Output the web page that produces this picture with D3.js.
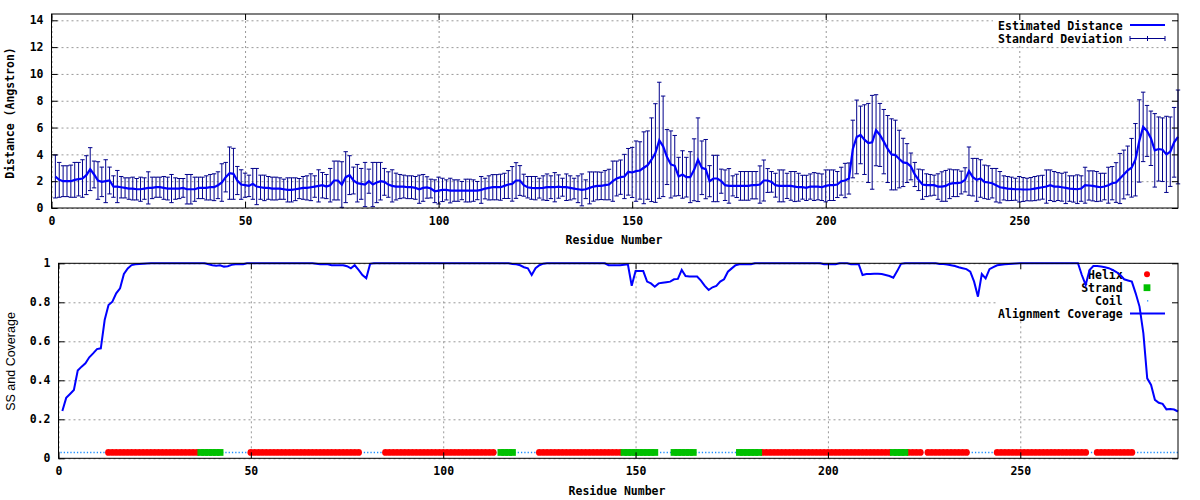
<!DOCTYPE html>
<html><head><meta charset="utf-8">
<script src="https://cdn.jsdelivr.net/npm/d3@7"></script>
<style>
body{margin:0;background:#fff}
svg{display:block}
text{font-family:"DejaVu Sans Mono",monospace;font-weight:bold;font-size:11.5px;fill:#000}
</style>
</head><body>
<svg id="c" width="1200" height="500"></svg>
<script>
// ---------------- data ----------------
const residues = d3.range(1, 292);
const distMean = [
2.35,2.1,2.0,2.0,2.0,2.1,2.15,2.2,2.45,2.9,
2.5,2.05,1.95,2.0,2.05,1.6,1.6,1.55,1.5,1.45,
1.45,1.4,1.4,1.45,1.5,1.5,1.55,1.55,1.5,1.45,
1.45,1.45,1.45,1.5,1.4,1.4,1.4,1.5,1.5,1.5,
1.55,1.55,1.7,1.9,2.3,2.6,2.55,2.05,1.75,1.7,
1.65,1.8,1.6,1.55,1.5,1.5,1.45,1.45,1.45,1.4,
1.35,1.35,1.4,1.45,1.5,1.5,1.55,1.6,1.65,1.7,
1.6,1.7,2.05,2.05,1.75,2.3,2.45,2.05,1.85,1.8,
1.75,2.0,1.75,1.9,2.0,1.95,1.75,1.65,1.6,1.6,
1.6,1.55,1.55,1.5,1.4,1.5,1.53,1.45,1.25,1.3,
1.35,1.35,1.3,1.3,1.3,1.3,1.3,1.3,1.3,1.3,
1.35,1.45,1.5,1.55,1.55,1.55,1.65,1.75,1.8,2.05,
2.05,1.7,1.55,1.5,1.48,1.48,1.5,1.55,1.55,1.55,
1.6,1.55,1.55,1.5,1.45,1.4,1.35,1.4,1.5,1.6,
1.65,1.65,1.7,1.75,2.0,2.2,2.3,2.35,2.7,2.65,
2.75,2.8,3.0,3.2,3.6,4.1,5.05,4.6,3.8,3.25,
3.15,2.35,2.5,2.3,2.3,2.85,3.6,3.0,2.9,2.0,
2.2,2.2,2.0,1.7,1.65,1.65,1.65,1.65,1.65,1.65,
1.7,1.7,1.75,2.05,2.05,1.95,1.7,1.65,1.65,1.65,
1.65,1.6,1.55,1.55,1.5,1.6,1.6,1.6,1.55,1.65,
1.7,1.7,1.75,2.0,2.05,2.2,4.4,5.3,5.45,5.1,
4.85,4.9,5.8,5.45,4.95,4.4,4.0,3.95,3.65,3.4,
3.35,3.1,2.5,2.1,1.75,1.7,1.7,1.7,1.6,1.6,
1.65,1.8,1.85,1.85,1.9,2.1,2.75,2.3,2.1,2.2,
1.95,1.9,1.85,1.7,1.55,1.5,1.45,1.43,1.4,1.4,
1.38,1.38,1.4,1.45,1.5,1.55,1.6,1.7,1.6,1.6,
1.55,1.5,1.45,1.42,1.4,1.45,1.7,1.68,1.65,1.6,
1.55,1.6,1.7,1.85,1.9,2.2,2.5,2.8,3.0,3.6,
5.0,6.05,5.75,5.2,4.3,4.4,4.35,4.0,4.2,4.9,5.3];
const distSD = [
1.6,1.3,1.15,1.15,1.2,1.3,1.25,1.4,1.45,1.6,
1.0,1.4,1.1,1.6,1.0,0.8,1.2,0.8,0.75,0.8,
0.85,0.8,0.9,0.8,1.2,0.8,0.75,0.75,0.85,0.85,
1.05,0.8,0.75,0.7,1.1,1.1,0.9,0.8,0.8,0.9,
0.95,1.0,1.0,1.4,1.1,1.95,1.9,1.05,1.1,0.9,
0.8,1.15,1.35,0.9,0.95,0.85,0.85,0.85,0.8,0.75,
0.9,0.9,0.85,0.75,0.85,0.9,1.0,0.8,1.2,0.95,
0.9,1.25,1.45,1.45,1.7,1.9,1.45,1.0,1.4,1.15,
1.65,0.9,1.65,1.5,1.4,1.0,0.95,1.2,1.0,0.9,
0.85,0.85,0.85,0.85,1.05,1.0,0.8,0.7,0.85,1.0,
0.87,0.75,0.92,0.8,0.8,0.68,0.85,0.85,0.8,0.68,
1.0,0.77,0.9,0.94,0.94,0.97,0.94,1.04,1.29,1.33,
1.11,0.82,0.8,0.85,0.87,0.74,0.9,0.99,0.85,1.09,
0.87,0.67,0.99,0.9,0.77,1.0,1.19,0.7,1.19,1.09,
1.04,1.02,1.09,1.14,1.5,1.3,1.28,1.65,1.74,1.87,
2.25,2.14,2.68,2.55,3.12,3.68,4.33,3.75,2.05,2.5,
2.26,1.43,1.77,1.48,1.9,2.31,3.12,2.0,2.21,1.16,
1.73,1.73,0.9,1.14,1.29,0.75,0.87,1.07,1.07,1.07,
1.02,1.02,1.39,1.53,0.89,0.77,0.89,1.19,1.19,0.94,
1.07,1.12,1.04,0.89,0.94,0.94,1.04,0.99,0.99,1.19,
1.14,1.14,0.97,1.04,1.28,1.16,2.15,2.75,2.15,2.6,
2.95,3.5,2.65,2.35,2.4,2.5,2.65,2.6,2.15,1.8,
1.45,1.0,0.9,0.8,1.1,0.85,0.8,0.75,0.95,1.1,
1.15,1.1,1.0,1.0,0.85,0.9,1.8,1.4,1.6,1.4,
1.25,1.25,1.1,1.25,1.17,0.9,0.9,0.87,0.82,0.95,
0.89,0.84,0.87,0.9,0.9,0.89,1.24,1.14,1.12,1.04,
1.04,1.17,0.95,0.98,1.07,0.95,1.34,1.09,1.12,1.12,
1.04,0.99,1.34,1.24,1.48,1.87,1.82,1.82,2.19,2.7,
3.07,2.59,1.9,2.03,2.74,2.39,2.37,2.84,2.59,2.6,3.5];
const coverage = [
0.243,0.31,0.33,0.35,0.45,0.47,0.487,0.518,0.538,0.56,
0.564,0.709,0.786,0.803,0.846,0.872,0.945,0.974,0.991,0.995,
0.997,0.998,0.999,1,1,1,1,1,1,1,
1,1,1,1,1,1,1,1,0.995,0.99,
0.988,0.99,0.983,0.985,0.992,0.995,0.995,0.995,1,1,
1,1,1,1,1,1,1,1,1,1,
1,1,1,1,1,1,0.998,0.995,0.995,0.995,
0.99,0.99,0.99,0.99,0.985,0.974,0.99,0.966,0.94,0.923,
0.997,1,1,1,1,1,1,1,1,1,
1,1,1,1,1,1,1,1,1,1,
1,1,1,1,1,1,1,1,1,1,
1,1,1,1,1,1,1,0.997,0.995,0.99,
0.98,0.974,0.94,0.975,0.99,0.998,1,1,1,1,
1,1,1,1,1,1,1,1,1,1,
1,1,0.99,0.99,0.99,0.99,0.993,0.995,0.885,0.96,
0.96,0.96,0.906,0.897,0.88,0.897,0.9,0.903,0.906,0.918,
0.92,0.966,0.935,0.932,0.932,0.932,0.911,0.884,0.863,0.877,
0.884,0.906,0.918,0.957,0.974,0.99,0.995,0.995,0.995,0.995,
1,1,1,1,1,1,1,1,1,1,
1,1,1,1,1,1,1,1,0.995,0.995,
0.995,0.995,1,1,1,0.995,0.995,0.995,0.94,0.945,
0.945,0.946,0.946,0.945,0.94,0.935,0.926,0.96,0.997,1,
1,1,1,1,1,1,1,1,0.997,0.996,
0.994,0.99,0.986,0.98,0.975,0.97,0.957,0.906,0.829,0.945,
0.923,0.97,0.98,0.99,0.993,0.995,0.997,0.998,0.999,1,
1,1,1,1,1,1,1,1,1,1,
1,1,1,1,1,0.94,0.889,0.966,0.986,0.986,
0.984,0.98,0.975,0.966,0.955,0.94,0.918,0.912,0.906,0.846,
0.778,0.641,0.41,0.376,0.3,0.285,0.279,0.251,0.253,0.25,0.24];
// secondary structure runs: [type, first residue, last residue]
const ssRuns = [
["C",1,12],["H",13,36],["E",37,42],["C",43,49],["H",50,78],["C",79,84],
["H",85,113],["C",114,114],["E",115,118],["C",119,124],["H",125,146],
["E",147,155],["C",156,159],["E",160,165],["C",166,176],["E",177,182],
["H",183,216],["E",217,220],["H",221,224],["C",225,225],["H",226,236],
["C",237,243],["H",244,267],["C",268,269],["H",270,279],["C",280,291]];
const ssLevel = 0.03;
const xTicks = [0,50,100,150,200,250];
const topYTicks = [0,2,4,6,8,10,12,14];
const botYTicks = [0,0.2,0.4,0.6,0.8,1];
const topLegend = ["Estimated Distance","Standard Deviation"];
const botLegend = ["Helix","Strand","Coil","Alignment Coverage"];

// ---------------- styles ----------------
const GRID = "#999999", LINE = "#0000ff", ERR = "#00008b";
const RED = "#ff0000", GREEN = "#00c000", COIL = "#1e90ff";

const svg = d3.select("#c");

function frame(g, x, y, yTicks) {
  const [x0, x1] = x.range(), [y0, y1] = y.range();
  const W = x1 - x0, H = y0 - y1;
  g.append("g").attr("transform", `translate(0,${y0})`)
    .call(d3.axisBottom(x).tickValues(xTicks).tickSize(-H).tickFormat(""))
    .call(s => { s.select(".domain").remove();
      s.selectAll("line").attr("stroke", GRID).attr("stroke-dasharray", "2,3"); });
  g.append("g").attr("transform", `translate(${x0},0)`)
    .call(d3.axisLeft(y).tickValues(yTicks).tickSize(-W).tickFormat(""))
    .call(s => { s.select(".domain").remove();
      s.selectAll("line").attr("stroke", GRID).attr("stroke-dasharray", "2,3"); });
}
function axes(g, x, y, yTicks, fmt, xpad, ypad) {
  const [x0, x1] = x.range(), [y0, y1] = y.range();
  const style = s => { s.select(".domain").remove();
    s.selectAll("line").attr("stroke", "#000");
    s.selectAll("text").attr("font-family", null).attr("font-size", null).style("fill", "#000"); };
  g.append("g").attr("transform", `translate(0,${y0})`)
    .call(d3.axisBottom(x).tickValues(xTicks).tickSize(-6).tickPadding(xpad).tickFormat(d3.format("d"))).call(style);
  g.append("g").attr("transform", `translate(0,${y1})`)
    .call(d3.axisTop(x).tickValues(xTicks).tickSize(-6).tickFormat("")).call(style);
  g.append("g").attr("transform", `translate(${x0},0)`)
    .call(d3.axisLeft(y).tickValues(yTicks).tickSize(-6).tickPadding(ypad).tickFormat(fmt)).call(style);
  g.append("g").attr("transform", `translate(${x1},0)`)
    .call(d3.axisRight(y).tickValues(yTicks).tickSize(-6).tickFormat("")).call(style);
  g.append("rect").attr("x", x0).attr("y", y1).attr("width", x1 - x0).attr("height", y0 - y1)
    .attr("fill", "none").attr("stroke", "#000");
}

// ================= TOP CHART =================
const xT = d3.scaleLinear().domain([0, 291]).range([51.5, 1178]);
const yT = d3.scaleLinear().domain([0, 14.47]).range([208, 14]);
const gT = svg.append("g");
frame(gT, xT, yT, topYTicks);
gT.append("rect").attr("x", 993).attr("y", 14.5).attr("width", 184).attr("height", 31).attr("fill", "#fff");

const cap = 2.2;
const eb = gT.append("g").attr("stroke", ERR).attr("stroke-width", 1).attr("fill", "none");
residues.forEach((r, i) => {
  const cx = xT(r), lo = yT(Math.max(0, distMean[i] - distSD[i])), hi = yT(distMean[i] + distSD[i]);
  eb.append("path").attr("d",
    `M${cx},${lo}V${hi}M${cx - cap},${hi}H${cx + cap}` + (distMean[i] - distSD[i] >= 0 ? `M${cx - cap},${lo}H${cx + cap}` : ""));
});
gT.append("path").datum(residues)
  .attr("d", d3.line().x(r => xT(r)).y((r, i) => yT(distMean[i])))
  .attr("fill", "none").attr("stroke", LINE).attr("stroke-width", 2.2);

axes(gT, xT, yT, topYTicks, d3.format("d"), 9, 8);

gT.append("text").attr("x", 1122.7).attr("y", 30).attr("text-anchor", "end").text(topLegend[0]);
gT.append("text").attr("x", 1122.7).attr("y", 43).attr("text-anchor", "end").text(topLegend[1]);
gT.append("line").attr("x1", 1130).attr("x2", 1165).attr("y1", 25).attr("y2", 25)
  .attr("stroke", LINE).attr("stroke-width", 2);
gT.append("path").attr("d", "M1130,38.5H1165M1130,36V41M1165,36V41M1147.5,36V41")
  .attr("stroke", ERR).attr("fill", "none");

gT.append("text").attr("transform", "translate(14,113) rotate(-90)").attr("text-anchor", "middle")
  .text("Distance (Angstron)");
gT.append("text").attr("x", 614).attr("y", 244).attr("text-anchor", "middle").text("Residue Number");

// ================= BOTTOM CHART =================
const xB = d3.scaleLinear().domain([0, 291]).range([58.5, 1178]);
const yB = d3.scaleLinear().domain([0, 1]).range([458.3, 263.3]);
const gB = svg.append("g");
frame(gB, xB, yB, botYTicks);
gB.append("rect").attr("x", 997).attr("y", 264).attr("width", 180).attr("height", 54).attr("fill", "#fff");

const sY = yB(ssLevel);
const coilY = Math.floor(sY) + 0.5;
ssRuns.filter(d => d[0] === "C").forEach(d => {
  gB.append("line").attr("x1", xB(d[1] - 0.5)).attr("x2", xB(d[2] + 0.5)).attr("y1", coilY).attr("y2", coilY)
    .attr("stroke", COIL).attr("stroke-width", 1.3).attr("stroke-dasharray", "1.3,2");
});
ssRuns.filter(d => d[0] === "H").forEach(d => {
  gB.append("g").selectAll("circle").data(d3.range(d[1], d[2] + 1)).join("circle")
    .attr("cx", r => xB(r)).attr("cy", sY).attr("r", 3.4).attr("fill", RED);
});
ssRuns.filter(d => d[0] === "E").forEach(d => {
  gB.append("g").selectAll("rect").data(d3.range(d[1], d[2] + 1)).join("rect")
    .attr("x", r => xB(r) - 3.4).attr("y", sY - 3.4).attr("width", 6.8).attr("height", 6.8).attr("fill", GREEN);
});

[278.5, 291.7, 305, 318].forEach((yy, i) =>
  gB.append("text").attr("x", 1122.7).attr("y", yy).attr("text-anchor", "end").text(botLegend[i]));
gB.append("circle").attr("cx", 1147).attr("cy", 274.3).attr("r", 3).attr("fill", RED);
gB.append("rect").attr("x", 1143.6).attr("y", 284.3).attr("width", 6.8).attr("height", 6.8).attr("fill", GREEN);
gB.append("rect").attr("x", 1147).attr("y", 300.2).attr("width", 1.3).attr("height", 1.3).attr("fill", COIL);
gB.append("line").attr("x1", 1130).attr("x2", 1165).attr("y1", 313.5).attr("y2", 313.5)
  .attr("stroke", LINE).attr("stroke-width", 2);

gB.append("path").datum(residues)
  .attr("d", d3.line().x(r => xB(r)).y((r, i) => yB(coverage[i])))
  .attr("fill", "none").attr("stroke", LINE).attr("stroke-width", 2);

axes(gB, xB, yB, botYTicks, d3.format(""), 9, 8);

gB.append("text").attr("transform", "translate(15,361.5) rotate(-90)").attr("text-anchor", "middle")
  .style("font-family", "'Liberation Sans',Arial,sans-serif").style("font-weight", "normal").style("font-size", "12.5px")
  .text("SS and Coverage");
gB.append("text").attr("x", 617).attr("y", 494.5).attr("text-anchor", "middle").text("Residue Number");
</script>
</body></html>
